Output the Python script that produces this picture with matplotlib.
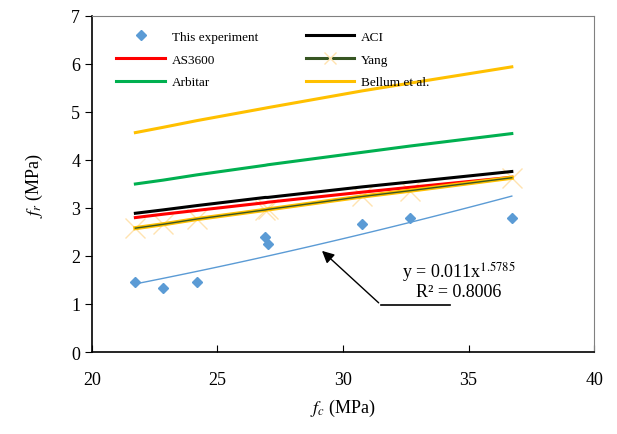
import numpy as np
import matplotlib.pyplot as plt
import matplotlib.patheffects as pe
from matplotlib.lines import Line2D

plt.rcParams['font.family'] = ['Liberation Serif', 'DejaVu Serif']
plt.rcParams['mathtext.fontset'] = 'stix'

# compressive strength (MPa) and measured flexural strength (MPa)
fc = [21.73, 22.83, 24.18, 26.90, 27.00, 30.77, 32.66, 36.72]
fr_exp = [1.46, 1.33, 1.46, 2.40, 2.25, 2.67, 2.79, 2.79]

# code / model predictions at the same fc
fr_aci = [2.89, 2.96, 3.05, 3.22, 3.22, 3.44, 3.54, 3.76]
fr_as3600 = [2.80, 2.87, 2.95, 3.11, 3.12, 3.33, 3.43, 3.64]
fr_yang = [2.58, 2.66, 2.77, 2.96, 2.97, 3.24, 3.36, 3.63]
fr_arbitar = [3.50, 3.58, 3.69, 3.89, 3.90, 4.16, 4.29, 4.55]
fr_bellum = [4.57, 4.68, 4.82, 5.08, 5.09, 5.44, 5.60, 5.94]

# power trendline y = a x^b
a_fit = 0.011
b_fit = 1.5785
r2_fit = 0.8006

fig = plt.figure(figsize=(6.17, 4.35), dpi=100)
ax = fig.add_axes([0.149, 0.1885, 0.814, 0.7725])

yang_marker_col = '#FFE3B0'

h_exp, = ax.plot(fc, fr_exp, 'D', color='#5B9BD5', markersize=5.5, zorder=5)
h_aci, = ax.plot(fc, fr_aci, '-', color='black', lw=2.2)
h_as, = ax.plot(fc, fr_as3600, '-', color='#FF0000', lw=2.2)
ax.plot(fc, fr_yang, 'x', markersize=14, markeredgecolor=yang_marker_col,
        markeredgewidth=1.0, zorder=1)
ax.plot(fc, fr_yang, '-', color='#375623', lw=1.0,
        path_effects=[pe.Stroke(linewidth=3, foreground='#FFC000'), pe.Normal()])
h_arb, = ax.plot(fc, fr_arbitar, '-', color='#00B050', lw=2.2)
h_bel, = ax.plot(fc, fr_bellum, '-', color='#FFC000', lw=2.2)
h_yang = Line2D([], [], color='#375623', lw=2.2, marker='x', markersize=8,
                markeredgecolor=yang_marker_col, markeredgewidth=1.0)

xs = np.linspace(min(fc), max(fc), 100)
ax.plot(xs, a_fit * xs ** b_fit, '-', color='#5B9BD5', lw=1.0)

ax.set_xlim(20, 40)
ax.set_ylim(0, 7)
ax.set_xticks([20, 25, 30, 35, 40])
ax.set_yticks(range(0, 8))
ax.tick_params(axis='x', direction='in', labelsize=13, pad=14, length=5)
ax.tick_params(axis='y', direction='out', labelsize=13, length=5)
for s in ['top', 'right']:
    ax.spines[s].set_color('#808080')
ax.spines['left'].set_linewidth(1.2)
ax.spines['bottom'].set_linewidth(1.2)

ax.set_xlabel(r'$f_c$ (MPa)', fontsize=13, labelpad=6)
ax.set_ylabel(r'$f_r$ (MPa)', fontsize=13, labelpad=19)

# trendline label with leader
ax.plot([31.50, 34.27], [0.985, 0.985], '-', color='black', lw=1.2)
ax.annotate('', xy=(29.08, 2.146), xytext=(31.50, 0.985),
            arrowprops=dict(arrowstyle='-|>', color='black', lw=1.0, mutation_scale=18))
ax.text(34.6, 1.68, r'y = 0.011x$^{1.5785}$', fontsize=13, ha='center', va='center')
ax.text(34.6, 1.27, 'R² = %.4f' % r2_fit, fontsize=13, ha='center', va='center')

# row-wise order as in the source chart
handles = [h_exp, h_as, h_arb, h_aci, h_yang, h_bel]
labels = ['This experiment', 'AS3600', 'Arbitar', 'ACI', 'Yang', 'Bellum et al.']
ax.legend(handles, labels, ncol=2, frameon=False, fontsize=9.5, loc='upper left',
          bbox_to_anchor=(0.025, 0.992), columnspacing=3.6, handlelength=3.7,
          handletextpad=0.5, labelspacing=0.8)

fig.savefig('out.png', dpi=100)
